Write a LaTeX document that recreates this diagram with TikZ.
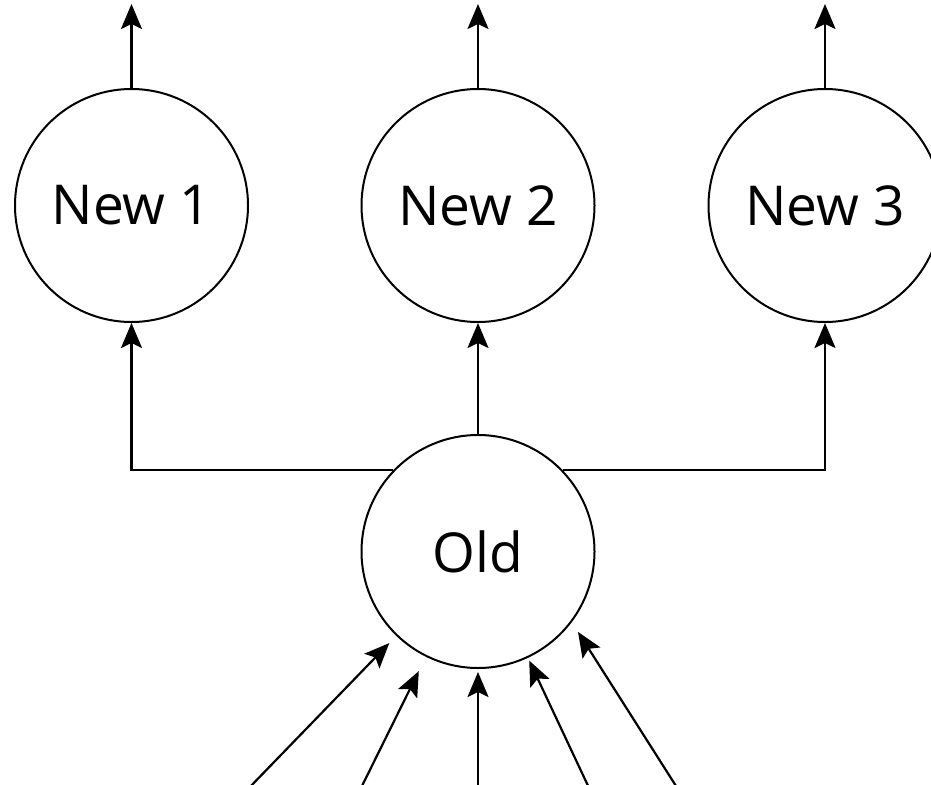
\documentclass[tikz,border=0pt]{standalone}
\usepackage{fontspec}
\setmainfont{Open Sans}
\usetikzlibrary{arrows.meta}
\begin{document}
\begin{tikzpicture}[x=1pt,y=-1pt,
  state/.style={circle,draw,line width=2pt,minimum size=233pt,inner sep=0pt,
    font=\fontsize{55}{62}\selectfont},
  arr/.style={line width=2.2pt,-{Stealth[length=25pt,width=21pt,inset=5pt]}},
  link/.style={line width=2.2pt}]
\useasboundingbox (0,0) rectangle (931,784);

% states
\node[state] (new1) at (131.5,205.5) {New 1};
\node[state] (new2) at (478,205.5) {New 2};
\node[state] (new3) at (825,205.5) {New 3};
\node[state] (old) at (478,551.5) {Old};

% outgoing ends at the top
\coordinate (t1) at (131.5,4);
\coordinate (t2) at (478,4);
\coordinate (t3) at (825,4);
\draw[arr] (new1.north) -- (t1);
\draw[arr] (new2.north) -- (t2);
\draw[arr] (new3.north) -- (t3);

% old splits into the new states
\draw[arr] (old.north) -- (new2.south);
\draw[arr] (old.136) -| (new1.south);
\draw[arr] (old.44) -| (new3.south);

% incoming arrows from below
\coordinate (b1) at (247,790);
\coordinate (b2) at (360,790);
\coordinate (b3) at (478,790);
\coordinate (b4) at (590,790);
\coordinate (b5) at (676,786);
\draw[arr,shorten >=10pt] (b1) -- (old);
\draw[arr,shorten >=16pt] (b2) -- (old);
\draw[arr,shorten >=3pt] (b3) -- (old);
\draw[arr,shorten >=3pt] (b4) -- (old);
\draw[arr,shorten >=11.5pt] (b5) -- (old.-37.8);
\end{tikzpicture}
\end{document}
